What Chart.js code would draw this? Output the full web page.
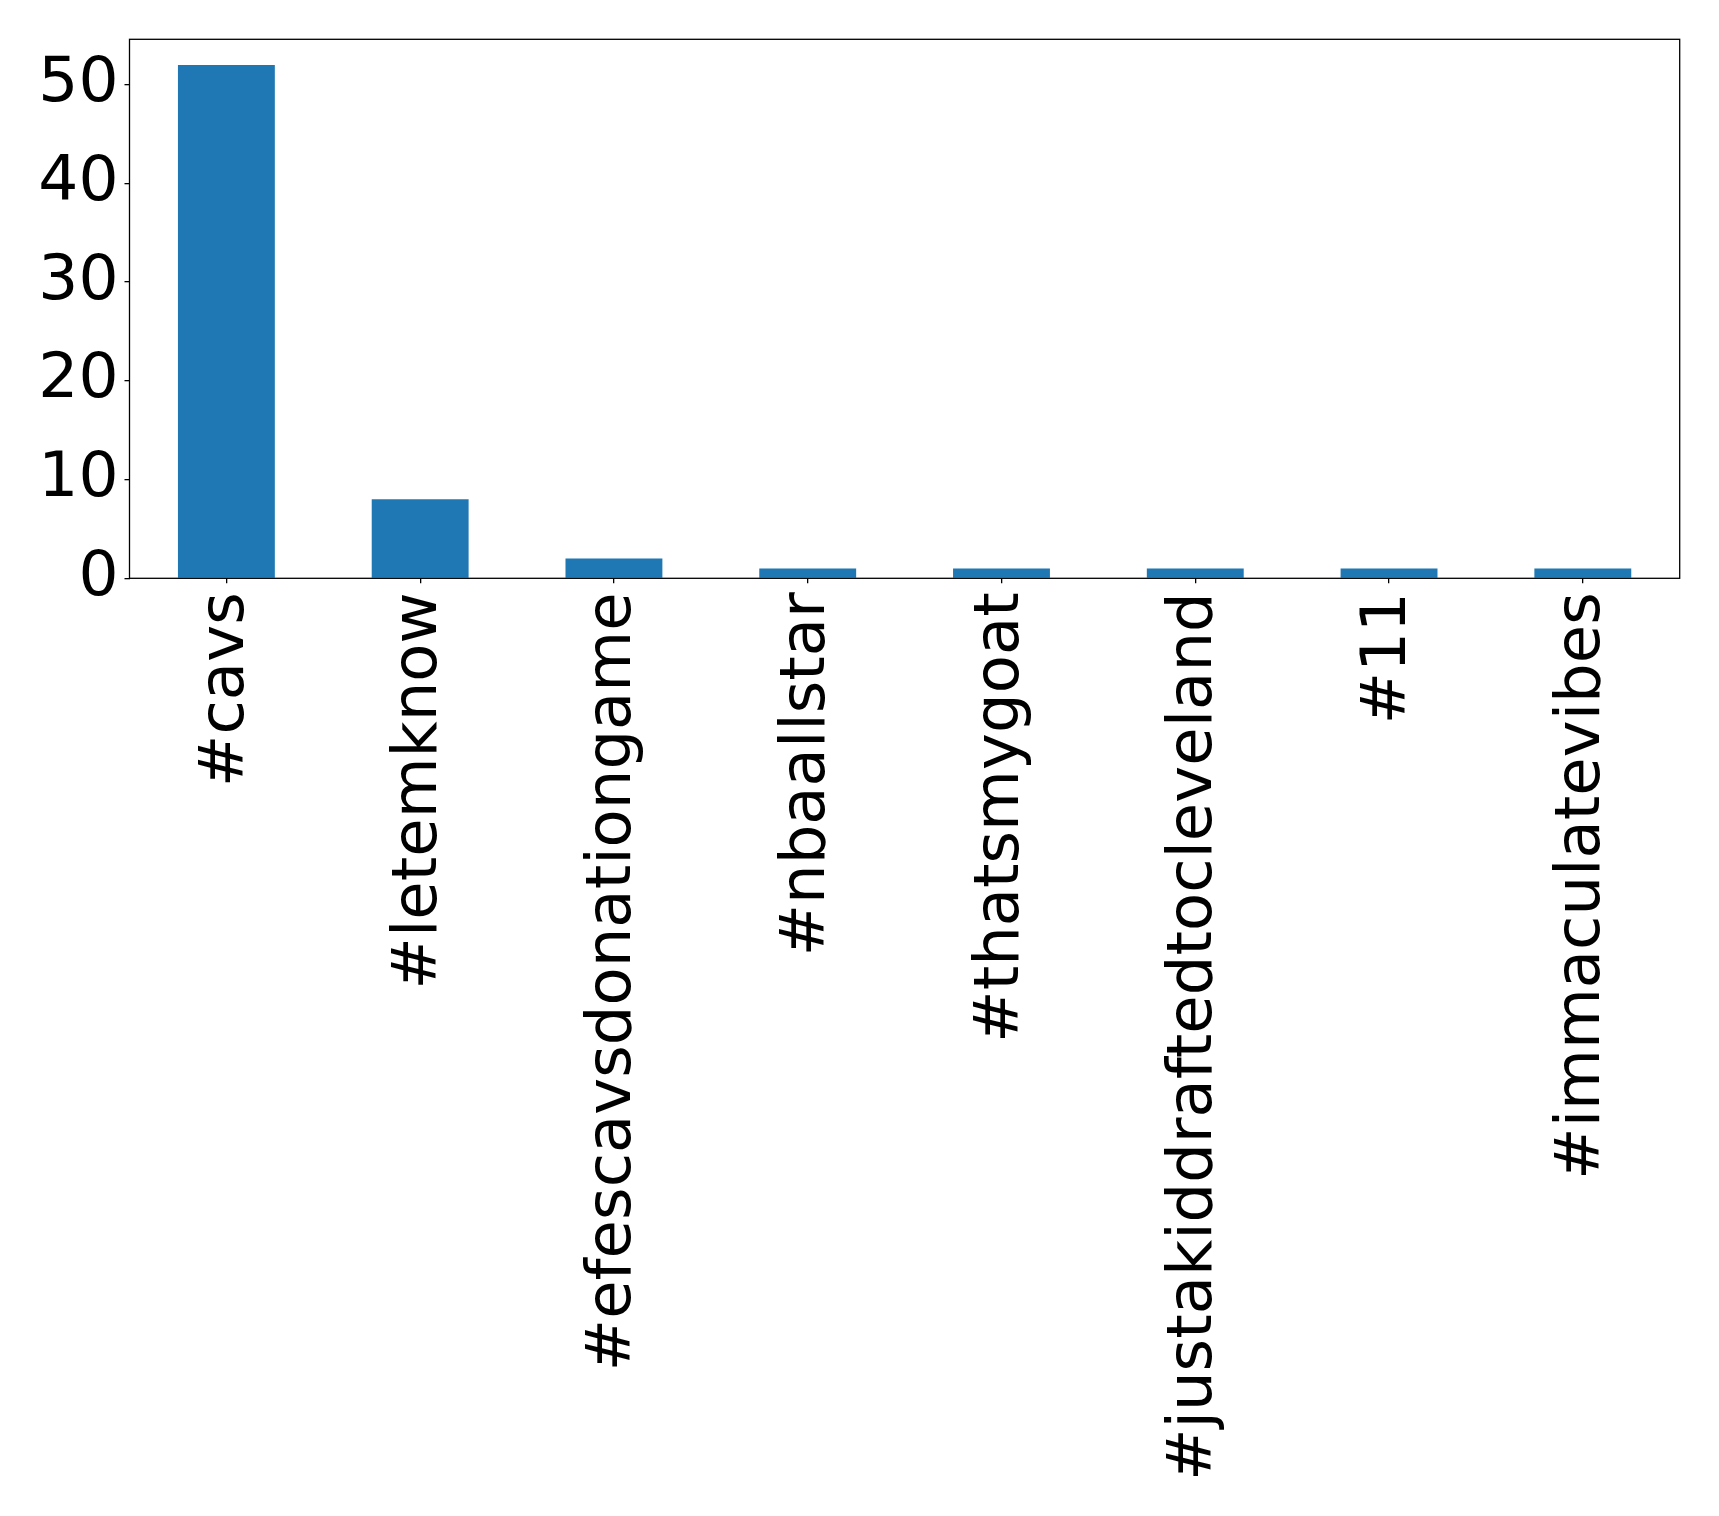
<!DOCTYPE html>
<html>
<head>
<meta charset="utf-8">
<script src="https://cdn.jsdelivr.net/npm/chart.js@4/dist/chart.umd.min.js"></script>
<style>
html,body{margin:0;padding:0;background:#fff;}
canvas{display:block;}
</style>
</head>
<body>
<canvas id="c" width="1719" height="1516"></canvas>
<script>
const categories = ['#cavs','#letemknow','#efescavsdonationgame','#nbaallstar','#thatsmygoat','#justakiddraftedtocleveland','#11','#immaculatevibes'];
const counts = [52, 8, 2, 1, 1, 1, 1, 1];
const yTicks = [0, 10, 20, 30, 40, 50];

const FONT = 'DejaVu Sans';
const frame = {
  id: 'frame',
  afterDatasetsDraw(chart) {
    const a = chart.chartArea, ctx = chart.ctx;
    ctx.save();
    ctx.strokeStyle = '#000';
    ctx.lineWidth = 1.3;
    ctx.strokeRect(a.left, a.top, a.right - a.left, a.bottom - a.top);
    ctx.restore();
  }
};

new Chart(document.getElementById('c'), {
  type: 'bar',
  data: {
    labels: categories,
    datasets: [{ data: counts, backgroundColor: '#1f77b4', borderWidth: 0, categoryPercentage: 1.0, barPercentage: 0.5 }]
  },
  options: {
    responsive: false,
    animation: false,
    devicePixelRatio: 1,
    layout: { padding: { top: 39.3, right: 39.3, left: 0, bottom: 0 } },
    plugins: { legend: { display: false }, tooltip: { enabled: false } },
    scales: {
      x: {
        offset: true,
        grid: { display: true, offset: false, drawOnChartArea: false, drawTicks: true, tickLength: 5, color: '#000', lineWidth: 1.3 },
        border: { display: false },
        ticks: { autoSkip: false, maxRotation: 90, minRotation: 90, padding: 9, color: '#000', font: { family: FONT, size: 62.5 } },
        afterFit(s) { s.height = 937.7; s.paddingLeft = 0; s.paddingRight = 0; }
      },
      y: {
        min: 0, max: 54.6,
        grid: { display: true, drawOnChartArea: false, drawTicks: true, tickLength: 5, color: '#000', lineWidth: 1.3 },
        border: { display: false },
        ticks: { stepSize: 10, includeBounds: false, padding: 6, color: '#000', font: { family: FONT, size: 63 } },
        afterBuildTicks(s) { s.ticks = yTicks.map(v => ({ value: v })); },
        afterFit(s) { s.width = 129.5; s.paddingTop = 0; s.paddingBottom = 0; }
      }
    }
  },
  plugins: [frame]
});
</script>
</body>
</html>
